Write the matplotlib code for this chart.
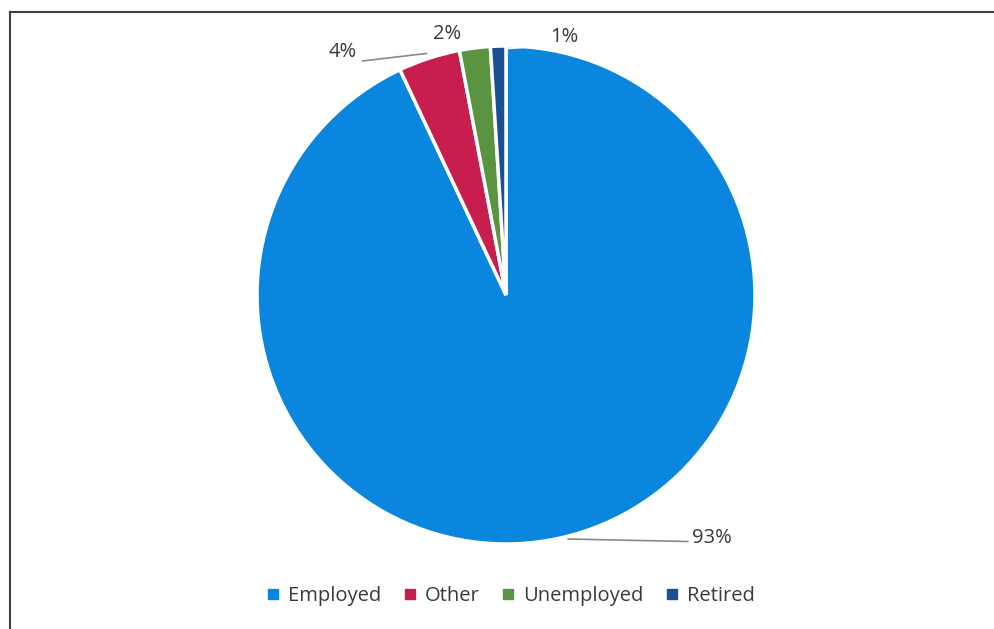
import numpy as np
import matplotlib
matplotlib.use("Agg")
from matplotlib import pyplot as plt
from matplotlib.lines import Line2D

labels = ["Employed", "Other", "Unemployed", "Retired"]
values = [93, 4, 2, 1]
colors = ["#0A86DE", "#C81E4E", "#5B9440", "#1A4F92"]

plt.rcParams["font.family"] = ["Open Sans", "DejaVu Sans"]
text_color = "#3a3a3a"

fig = plt.figure(figsize=(9.94, 6.29), dpi=100)
W, H = 994, 629

# pie placement in pixels
cx, cy, r = 506, 295, 249
ax = fig.add_axes([(cx - r) / W, (H - cy - r) / H, 2 * r / W, 2 * r / H])

wedges, _ = ax.pie(values, colors=colors, startangle=90, counterclock=False,
                   wedgeprops=dict(edgecolor="white", linewidth=2.5))
ax.set_xlim(-1, 1)
ax.set_ylim(-1, 1)
ax.set_aspect("equal")
ax.axis("off")

# label positions (data units, radius = 1) and leader line ends
label_pos = [(0.825, -0.975), (-0.655, 0.975), (-0.235, 1.05), (0.235, 1.035)]
leaders = [((0.73, -0.99), (0.25, -0.98)),
           ((-0.575, 0.94), (-0.32, 0.97)),
           None,
           ((0.15, 1.0), (0.01, 0.99))]
leader_colors = ["#8a8a8a", "#8a8a8a", None, "white"]
for v, pos, ld, lc in zip(values, label_pos, leaders, leader_colors):
    ax.text(pos[0], pos[1], f"{v}%", ha="center", va="center",
            fontsize=14.5, color=text_color, clip_on=False)
    if ld is not None:
        ax.plot([ld[0][0], ld[1][0]], [ld[0][1], ld[1][1]], color=lc,
                lw=1.2, clip_on=False)

# legend
handles = [Line2D([0], [0], marker="s", linestyle="none", markersize=7,
                  markerfacecolor=c, markeredgecolor=c) for c in colors]
fig.legend(handles, labels, loc="center", bbox_to_anchor=(0.514, 0.052),
           ncol=4, frameon=False, fontsize=14.5, handlelength=0.6,
           handletextpad=0.45, columnspacing=1.1, labelcolor=text_color)

# chart frame (top and left edges visible)
fig.add_artist(Line2D([10 / W, 993 / W], [1 - 12 / H, 1 - 12 / H],
                      transform=fig.transFigure, color="#404040", lw=1.5))
fig.add_artist(Line2D([10 / W, 10 / W], [0, 1 - 12 / H],
                      transform=fig.transFigure, color="#404040", lw=1.5))

plt.savefig("out.png", dpi=100)
plt.close()
